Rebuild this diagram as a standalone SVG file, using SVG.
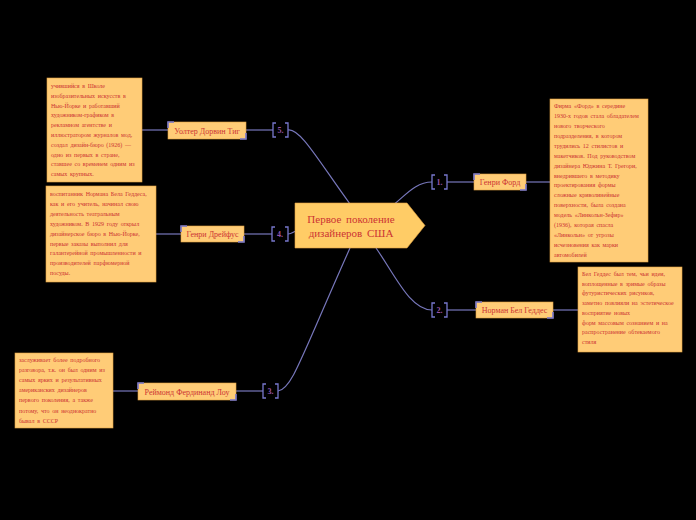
<svg xmlns="http://www.w3.org/2000/svg" width="696" height="520" viewBox="0 0 696 520">
<style>
.bg{fill:#000}
.box{fill:#FFCC77;stroke:#E0A040;stroke-width:0.6}
.node{fill:#FFCC77;stroke:#E0A040;stroke-width:0.6}
.corner{fill:none;stroke:#7777CC;stroke-width:1.6}
.con{fill:none;stroke:#7777BB;stroke-width:1.2}
.br{fill:none;stroke:#7777CC;stroke-width:1.3}
.num{font-family:"Liberation Serif",serif;font-size:8px;font-weight:bold;fill:#9955AA;text-anchor:middle}
.t{font-family:"Liberation Serif",serif;font-size:6px;fill:#CC3333;word-spacing:1.2px}
.lbl{font-family:"Liberation Serif",serif;font-size:8px;fill:#CC3333;text-anchor:middle}
.ctr{font-family:"Liberation Serif",serif;font-size:11px;fill:#CC3333;text-anchor:middle;word-spacing:2px}
</style>
<rect class="bg" x="0" y="0" width="696" height="520"/>
<g id="connectors">
<path class="con" d="M142,130 H168"/>
<path class="con" d="M246,130 H273"/>
<path class="con" d="M288,130 C300,128 318,160 350,204"/>
<path class="con" d="M156,234 H181"/>
<path class="con" d="M244,234 H272"/>
<path class="con" d="M288,234 C292,234 293,232 296,231"/>
<path class="con" d="M113,391 H138"/>
<path class="con" d="M236,391 H263"/>
<path class="con" d="M278,391 C292,389 300,360 350,248"/>
<path class="con" d="M393,205 C405,196 415,182 432,182"/>
<path class="con" d="M447,182 H474"/>
<path class="con" d="M526,182 H550"/>
<path class="con" d="M376,248 C395,275 410,310 432,310"/>
<path class="con" d="M447,310 H476"/>
<path class="con" d="M553,310 H578"/>
</g>
<g id="center">
<polygon points="295,203 407,203 425,225.5 407,248 295,248" fill="#FFCC66" stroke="#E0A040" stroke-width="0.6"/>
<text class="ctr" x="351" y="223">Первое поколение</text>
<text class="ctr" x="351" y="237">дизайнеров США</text>
</g>
<g id="num5"><path class="br" d="M276,123 H273 V137 H276 M285,123 H288 V137 H285"/><text class="num" x="280.5" y="133">5.</text></g>
<g id="num4"><path class="br" d="M275,227 H272 V241 H275 M285,227 H288 V241 H285"/><text class="num" x="280" y="237">4.</text></g>
<g id="num3"><path class="br" d="M266,384 H263 V398 H266 M275,384 H278 V398 H275"/><text class="num" x="270.5" y="394">3.</text></g>
<g id="num1"><path class="br" d="M435,175 H432 V189 H435 M444,175 H447 V189 H444"/><text class="num" x="439.5" y="185">1.</text></g>
<g id="num2"><path class="br" d="M435,303 H432 V317 H435 M444,303 H447 V317 H444"/><text class="num" x="439.5" y="313">2.</text></g>
<g id="node-teague">
<rect class="node" x="168" y="122" width="78" height="17"/>
<path class="corner" d="M168,128 V122 H174 M240,139 H246 V133"/>
<text class="lbl" x="207" y="133.5">Уолтер Дорвин Тиг</text>
</g>
<g id="node-dreyfuss">
<rect class="node" x="181" y="226" width="63" height="16"/>
<path class="corner" d="M181,232 V226 H187 M238,242 H244 V236"/>
<text class="lbl" x="212.5" y="237">Генри Дрейфус</text>
</g>
<g id="node-loewy">
<rect class="node" x="138" y="383" width="98" height="17"/>
<path class="corner" d="M138,389 V383 H144 M230,400 H236 V394"/>
<text class="lbl" x="187" y="394.5">Реймонд Фердинанд Лоу</text>
</g>
<g id="node-ford">
<rect class="node" x="474" y="174" width="52" height="16"/>
<path class="corner" d="M474,180 V174 H480 M520,190 H526 V184"/>
<text class="lbl" x="500" y="185">Генри Форд</text>
</g>
<g id="node-geddes">
<rect class="node" x="476" y="302" width="77" height="16"/>
<path class="corner" d="M476,308 V302 H482 M547,318 H553 V312"/>
<text class="lbl" x="514.5" y="313">Норман Бел Геддес</text>
</g>
<g id="text-teague">
<rect class="box" x="47" y="78" width="95" height="104"/>
<text class="t"><tspan x="51" y="88">учившийся в Школе</tspan><tspan x="51" dy="9.8">изобразительных искусств в</tspan><tspan x="51" dy="9.8">Нью-Йорке и работавший</tspan><tspan x="51" dy="9.8">художником-графиком в</tspan><tspan x="51" dy="9.8">рекламном агентстве и</tspan><tspan x="51" dy="9.8">иллюстратором журналов мод,</tspan><tspan x="51" dy="9.8">создал дизайн-бюро (1926) —</tspan><tspan x="51" dy="9.8">одно из первых в стране,</tspan><tspan x="51" dy="9.8">ставшее со временем одним из</tspan><tspan x="51" dy="9.8">самых крупных.</tspan></text>
</g>
<g id="text-dreyfuss">
<rect class="box" x="46" y="186" width="110" height="96"/>
<text class="t"><tspan x="50" y="196">воспитанник Нормана Бела Геддеса,</tspan><tspan x="50" dy="9.9">как и его учитель, начинал свою</tspan><tspan x="50" dy="9.9">деятельность театральным</tspan><tspan x="50" dy="9.9">художником. В 1929 году открыл</tspan><tspan x="50" dy="9.9">дизайнерское бюро в Нью-Йорке,</tspan><tspan x="50" dy="9.9">первые заказы выполнил для</tspan><tspan x="50" dy="9.9">галантерейной промышленности и</tspan><tspan x="50" dy="9.9">производителей парфюмерной</tspan><tspan x="50" dy="9.9">посуды.</tspan></text>
</g>
<g id="text-loewy">
<rect class="box" x="15" y="353" width="98" height="75"/>
<text class="t"><tspan x="19" y="362">заслуживает более подробного</tspan><tspan x="19" dy="10.1">разговора, т.к. он был одним из</tspan><tspan x="19" dy="10.1">самых ярких и результативных</tspan><tspan x="19" dy="10.1">американских дизайнеров</tspan><tspan x="19" dy="10.1">первого поколения, а также</tspan><tspan x="19" dy="10.1">потому, что он неоднократно</tspan><tspan x="19" dy="10.1">бывал в СССР</tspan></text>
</g>
<g id="text-ford">
<rect class="box" x="550" y="99" width="98" height="163"/>
<text class="t"><tspan x="554" y="108">Фирма «Форд» в середине</tspan><tspan x="554" dy="9.93">1930-х годов стала обладателем</tspan><tspan x="554" dy="9.93">нового творческого</tspan><tspan x="554" dy="9.93">подразделения, в котором</tspan><tspan x="554" dy="9.93">трудились 12 стилистов и</tspan><tspan x="554" dy="9.93">макетчиков. Под руководством</tspan><tspan x="554" dy="9.93">дизайнера Юджина Т. Грегори,</tspan><tspan x="554" dy="9.93">внедрившего в методику</tspan><tspan x="554" dy="9.93">проектирования формы</tspan><tspan x="554" dy="9.93">сложные криволинейные</tspan><tspan x="554" dy="9.93">поверхности, была создана</tspan><tspan x="554" dy="9.93">модель «Линкольн-Зефир»</tspan><tspan x="554" dy="9.93">(1936), которая спасла</tspan><tspan x="554" dy="9.93">«Линкольн» от угрозы</tspan><tspan x="554" dy="9.93">исчезновения как марки</tspan><tspan x="554" dy="9.93">автомобилей</tspan></text>
</g>
<g id="text-geddes">
<rect class="box" x="578" y="267" width="104" height="85"/>
<text class="t"><tspan x="582" y="276">Бел Геддес был тем, чьи идеи,</tspan><tspan x="582" dy="9.7">воплощенные в зримые образы</tspan><tspan x="582" dy="9.7">футуристических рисунков,</tspan><tspan x="582" dy="9.7">заметно повлияли на эстетическое</tspan><tspan x="582" dy="9.7">восприятие новых</tspan><tspan x="582" dy="9.7">форм массовым сознанием и на</tspan><tspan x="582" dy="9.7">распространение обтекаемого</tspan><tspan x="582" dy="9.7">стиля</tspan></text>
</g>
</svg>
